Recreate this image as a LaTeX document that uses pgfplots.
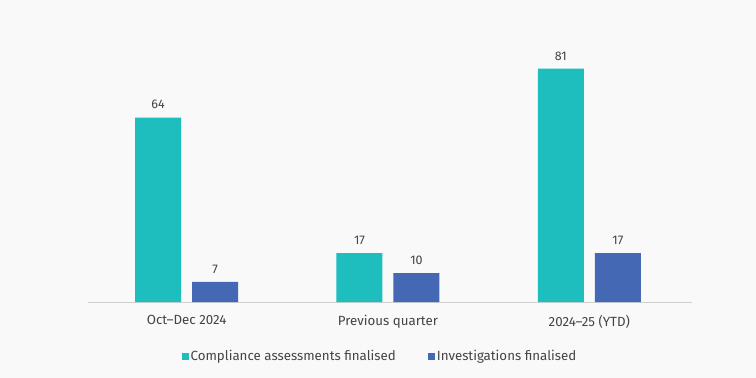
\documentclass[border=0pt]{standalone}
\usepackage{pgfplots}
\pgfplotsset{compat=1.18}
\usepackage{fontspec}
\setmainfont{Fira Sans}
\definecolor{bg}{HTML}{F9F9F9}
\definecolor{tealc}{HTML}{1EBDBE}
\definecolor{bluec}{HTML}{4468B3}
\definecolor{txt}{HTML}{444444}
\definecolor{axc}{HTML}{D0D0D0}
\begin{document}
\begin{tikzpicture}
\fill[bg] (0pt,0pt) rectangle (756pt,378pt);
\useasboundingbox (0pt,0pt) rectangle (756pt,378pt);
\begin{axis}[
  at={(88pt,76pt)}, anchor=south west,
  scale only axis, width=604pt, height=288pt,
  xmin=-0.49, xmax=2.51, ymin=0, ymax=100,
  axis x line=bottom, axis y line=none,
  x axis line style={-, draw=axc, line width=0.8pt},
  xtick={0,1,2},
  xticklabels={Oct–Dec 2024, Previous quarter, 2024–25 (YTD)},
  major tick length=0pt,
  /pgf/number format/assume math mode=true,
  xticklabel style={font=\fontsize{13.3}{15}\selectfont, text=txt, yshift=-9.5pt},
  ybar, bar width=46pt,
  nodes near coords,
  nodes near coords style={font=\fontsize{12.5}{14}\selectfont, text=txt, yshift=5pt},
  legend columns=2,
  legend style={at={(rel axis cs:0.5,0)}, anchor=center, yshift=-54pt, xshift=-10pt, draw=none, fill=none,
    font=\fontsize{13.3}{15}\selectfont, text=txt,
    /tikz/every even column/.append style={column sep=30pt}},
  clip=false,
]
\addplot[fill=tealc, draw=none, bar shift=-28.5pt,
  legend image code/.code={\fill[tealc] (0pt,-3.5pt) rectangle (7pt,3.5pt);}]
  coordinates {(0,64) (1,17) (2,81)};
\addlegendentry{Compliance assessments finalised}
\addplot[fill=bluec, draw=none, bar shift=28.5pt,
  legend image code/.code={\fill[bluec] (0pt,-3.5pt) rectangle (7pt,3.5pt);}]
  coordinates {(0,7) (1,10) (2,17)};
\addlegendentry{Investigations finalised}
\end{axis}
\end{tikzpicture}
\end{document}
